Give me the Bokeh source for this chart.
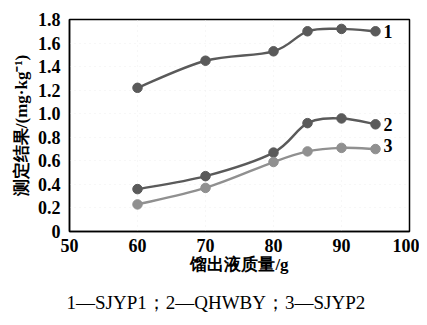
from bokeh.plotting import figure
from bokeh.models import FixedTicker, Label, Range1d, Title
from bokeh.embed import file_html
from bokeh.resources import INLINE

x = [60, 70, 80, 85, 90, 95]
s1 = [1.22, 1.45, 1.53, 1.70, 1.72, 1.70]
s2 = [0.36, 0.47, 0.67, 0.92, 0.96, 0.91]
s3 = [0.23, 0.37, 0.59, 0.68, 0.71, 0.70]
series_names = ["1", "2", "3"]
x_ticks = [50, 60, 70, 80, 90, 100]
y_ticks = [0, 0.2, 0.4, 0.6, 0.8, 1.0, 1.2, 1.4, 1.6, 1.8]
y_tick_labels = ["0", "0.2", "0.4", "0.6", "0.8", "1.0", "1.2", "1.4", "1.6", "1.8"]
caption = "1—SJYP1；2—QHWBY；3—SJYP2"

SERIF = "Times New Roman"

p = figure(width=419, height=325, output_backend="svg", toolbar_location=None,
           x_range=Range1d(50, 100), y_range=Range1d(0, 1.8),
           min_border_left=69, min_border_right=10, min_border_top=19, min_border_bottom=93)
p.outline_line_color = "black"
p.outline_line_width = 1.5
p.background_fill_color = "white"
p.border_fill_color = "white"

p.xaxis.ticker = FixedTicker(ticks=x_ticks)
p.yaxis.ticker = FixedTicker(ticks=y_ticks)
p.yaxis.major_label_overrides = {t: l for t, l in zip(y_ticks, y_tick_labels)}
for ax in (p.xaxis, p.yaxis):
    ax.axis_line_color = "black"
    ax.axis_line_width = 1.5
    ax.major_tick_line_color = None
    ax.minor_tick_line_color = None
    ax.major_label_text_font = SERIF
    ax.major_label_text_font_style = "bold"
    ax.major_label_text_font_size = "18px"
    ax.major_label_text_color = "black"
    ax.axis_label_text_font = SERIF
    ax.axis_label_text_font_style = "bold"
    ax.axis_label_text_font_size = "17px"
    ax.axis_label_text_color = "black"
p.xaxis.major_label_standoff = 1
p.yaxis.major_label_standoff = 3
p.xaxis.axis_label = "馏出液质量/g"
p.xaxis.axis_label_standoff = 0
p.yaxis.axis_label = "测定结果/(mg·kg⁻¹)"
p.yaxis.axis_label_standoff = 4

p.xgrid.ticker = FixedTicker(ticks=[60, 70, 80, 90])
p.xgrid.grid_line_color = "#eeeeee"
p.xgrid.grid_line_dash = "1 4"
p.ygrid.grid_line_color = "#eeeeee"
p.ygrid.grid_line_dash = "1 4"


def smooth_segments(xs, ys):
    # Catmull-Rom control points through the data points
    n = len(xs)
    x0, y0, x1, y1, cx0, cy0, cx1, cy1 = [], [], [], [], [], [], [], []
    for i in range(n - 1):
        ip = max(i - 1, 0)
        inn = min(i + 2, n - 1)
        x0.append(xs[i]); y0.append(ys[i]); x1.append(xs[i + 1]); y1.append(ys[i + 1])
        cx0.append(xs[i] + (xs[i + 1] - xs[ip]) / 6.0)
        cy0.append(ys[i] + (ys[i + 1] - ys[ip]) / 6.0)
        cx1.append(xs[i + 1] - (xs[inn] - xs[i]) / 6.0)
        cy1.append(ys[i + 1] - (ys[inn] - ys[i]) / 6.0)
    return dict(x0=x0, y0=y0, x1=x1, y1=y1, cx0=cx0, cy0=cy0, cx1=cx1, cy1=cy1)


colors = ["#5a5a5a", "#5a5a5a", "#909090"]
label_dy = [0, 0, 4]
for ys, c, name, dy in zip([s1, s2, s3], colors, series_names, label_dy):
    seg = smooth_segments(x, ys)
    p.bezier(x0=seg["x0"], y0=seg["y0"], x1=seg["x1"], y1=seg["y1"],
             cx0=seg["cx0"], cy0=seg["cy0"], cx1=seg["cx1"], cy1=seg["cy1"],
             line_color=c, line_width=2.4)
    p.scatter(x, ys, size=9.5, fill_color=c, line_color=c)
    p.add_layout(Label(x=x[-1], y=ys[-1], text=name, x_offset=8, y_offset=dy,
                       text_baseline="middle",
                       text_font=SERIF, text_font_style="bold", text_font_size="18px",
                       text_color="black"))

p.add_layout(Title(text=caption, align="left", offset=-3, standoff=26,
                   text_font=SERIF, text_font_style="normal", text_font_size="19px",
                   text_color="black"), "below")

open("out.html", "w").write(file_html(p, INLINE))
